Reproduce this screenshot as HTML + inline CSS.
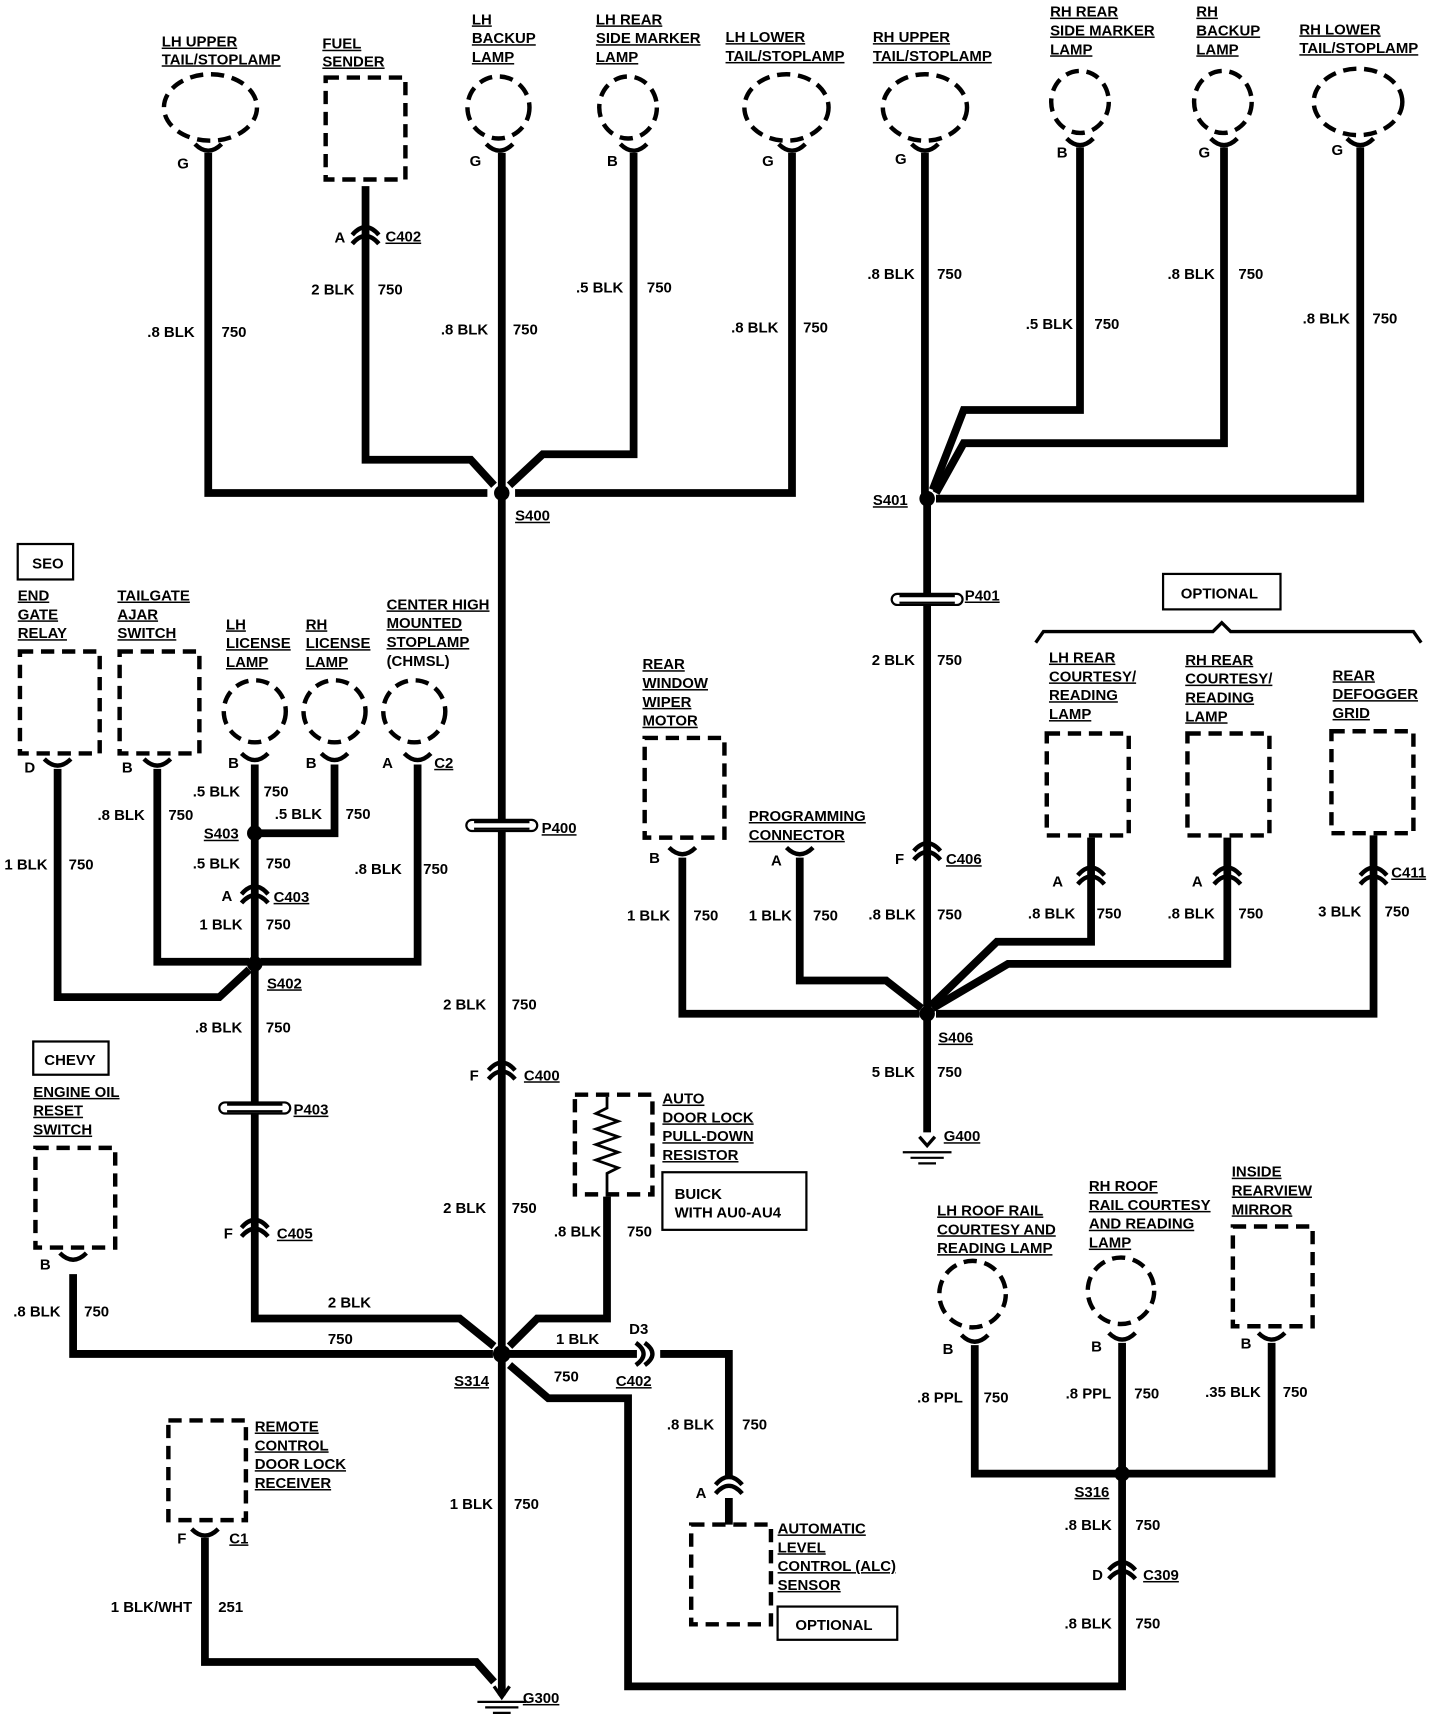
<!DOCTYPE html>
<html><head><meta charset="utf-8"><style>
html,body{margin:0;padding:0;background:#fff;}
svg{display:block;}
text{font-family:"Liberation Sans",sans-serif;font-weight:bold;font-size:13.5px;fill:#000;}
.u{text-decoration:underline;}
.w{fill:none;stroke:#000;stroke-width:7;stroke-linejoin:miter;}
.d{fill:none;stroke:#000;stroke-width:4;stroke-dasharray:12 7;}
.c{fill:none;stroke:#000;stroke-width:4;}
.b{fill:#fff;stroke:#000;stroke-width:2;}
</style></head><body>
<svg width="1440" height="1724" viewBox="0 0 1300 1556" preserveAspectRatio="none" xmlns="http://www.w3.org/2000/svg">
<rect width="1300" height="1556" fill="#fff"/>

<!-- ===== TOP LAMPS ===== -->
<g class="d">
<ellipse cx="190" cy="97" rx="42" ry="30"/>
<rect x="294" y="70" width="72" height="92"/>
<ellipse cx="450" cy="97" rx="28" ry="28"/>
<ellipse cx="567" cy="97" rx="26" ry="28"/>
<ellipse cx="710" cy="97" rx="38" ry="30"/>
<ellipse cx="835" cy="97" rx="38" ry="30"/>
<ellipse cx="975" cy="92" rx="26" ry="28"/>
<ellipse cx="1104" cy="92" rx="26" ry="28"/>
<ellipse cx="1226" cy="92" rx="40" ry="30"/>
</g>
<!-- Y connectors top -->
<g class="c">
<path d="M176 130 Q188 142 200 130"/>
<path d="M439 130 Q451 142 463 130"/>
<path d="M560 130 Q572 142 584 130"/>
<path d="M703 130 Q715 142 727 130"/>
<path d="M823 130 Q835 142 847 130"/>
<path d="M963 125 Q975 137 987 125"/>
<path d="M1093 125 Q1105 137 1117 125"/>
<path d="M1216 125 Q1228 137 1240 125"/>
</g>
<!-- top wires -->
<g class="w">
<path d="M188 138 V445 H440"/>
<path d="M330 168 V415 H425 L446 438"/>
<path d="M453 138 V1530"/>
<path d="M572 138 V410 H490 L460 438"/>
<path d="M715 138 V445 H465"/>
<path d="M835 138 V450"/>
<path d="M975 133 V370 H870 L842 442"/>
<path d="M1105 133 V400 H870 L845 445"/>
<path d="M1228 133 V450 H845"/>
<path d="M837 450 V915"/>
</g>
<!-- C402 top connector -->
<g class="c"><path d="M318 220 Q330 206 342 220"/><path d="M318 212 Q330 198 342 212"/></g>
<circle cx="453" cy="445" r="7"/>
<circle cx="837" cy="450" r="7"/>

<!-- top labels -->
<text class="u" x="146" y="42">LH UPPER</text><text class="u" x="146" y="58">TAIL/STOPLAMP</text>
<text class="u" x="291" y="44">FUEL</text><text class="u" x="291" y="60">SENDER</text>
<text class="u" x="426" y="22">LH</text><text class="u" x="426" y="39">BACKUP</text><text class="u" x="426" y="56">LAMP</text>
<text class="u" x="538" y="22">LH REAR</text><text class="u" x="538" y="39">SIDE MARKER</text><text class="u" x="538" y="56">LAMP</text>
<text class="u" x="655" y="38">LH LOWER</text><text class="u" x="655" y="55">TAIL/STOPLAMP</text>
<text class="u" x="788" y="38">RH UPPER</text><text class="u" x="788" y="55">TAIL/STOPLAMP</text>
<text class="u" x="948" y="15">RH REAR</text><text class="u" x="948" y="32">SIDE MARKER</text><text class="u" x="948" y="49">LAMP</text>
<text class="u" x="1080" y="15">RH</text><text class="u" x="1080" y="32">BACKUP</text><text class="u" x="1080" y="49">LAMP</text>
<text class="u" x="1173" y="31">RH LOWER</text><text class="u" x="1173" y="48">TAIL/STOPLAMP</text>

<text x="160" y="152">G</text><text x="424" y="150">G</text><text x="548" y="150">B</text>
<text x="688" y="150">G</text><text x="808" y="148">G</text><text x="954" y="142">B</text>
<text x="1082" y="142">G</text><text x="1202" y="140">G</text>
<text x="302" y="219">A</text><text class="u" x="348" y="218">C402</text>

<text x="133" y="304">.8 BLK</text><text x="200" y="304">750</text>
<text x="281" y="266">2 BLK</text><text x="341" y="266">750</text>
<text x="398" y="302">.8 BLK</text><text x="463" y="302">750</text>
<text x="520" y="264">.5 BLK</text><text x="584" y="264">750</text>
<text x="660" y="300">.8 BLK</text><text x="725" y="300">750</text>
<text x="783" y="252">.8 BLK</text><text x="846" y="252">750</text>
<text x="926" y="297">.5 BLK</text><text x="988" y="297">750</text>
<text x="1054" y="252">.8 BLK</text><text x="1118" y="252">750</text>
<text x="1176" y="292">.8 BLK</text><text x="1239" y="292">750</text>
<text class="u" x="465" y="470">S400</text>
<text class="u" x="788" y="456">S401</text>

<!-- P401 -->
<g><rect x="805" y="536" width="64" height="10" rx="5" class="b" stroke-width="3"/><line x1="812" y1="538" x2="862" y2="538" stroke="#000" stroke-width="2"/><line x1="812" y1="544" x2="862" y2="544" stroke="#000" stroke-width="2"/></g>
<text class="u" x="871" y="542">P401</text>
<text x="787" y="600">2 BLK</text><text x="846" y="600">750</text>
<!-- C406 -->
<g class="c"><path d="M825 776 Q837 762 849 776"/><path d="M825 768 Q837 754 849 768"/></g>
<text x="808" y="780">F</text><text class="u" x="854" y="780">C406</text>

<!-- OPTIONAL bracket -->
<rect x="1050" y="518" width="106" height="32" fill="#fff" stroke="#000" stroke-width="2"/>
<text x="1066" y="540">OPTIONAL</text>
<path d="M935 580 L942 570 H1095 L1103 562 L1111 570 H1276 L1283 580" fill="none" stroke="#000" stroke-width="3"/>

<!-- right middle devices -->
<g class="d">
<rect x="582" y="666" width="72" height="90"/>
<rect x="945" y="662" width="74" height="92"/>
<rect x="1072" y="662" width="74" height="92"/>
<rect x="1202" y="660" width="74" height="92"/>
</g>
<g class="c">
<path d="M604 765 Q616 777 628 765"/>
<path d="M710 765 Q722 777 734 765"/>
</g>
<g class="w">
<path d="M616 774 V915 H830"/>
<path d="M722 774 V885 H800 L832 910"/>
<path d="M985 756 V850 H900 L840 908"/>
<path d="M1108 756 V870 H910 L842 910"/>
<path d="M1240 754 V915 H845"/>
<path d="M837 915 V1022"/>
</g>
<g class="c">
<path d="M973 798 Q985 784 997 798"/><path d="M973 790 Q985 776 997 790"/>
<path d="M1096 798 Q1108 784 1120 798"/><path d="M1096 790 Q1108 776 1120 790"/>
<path d="M1228 798 Q1240 784 1252 798"/><path d="M1228 790 Q1240 776 1252 790"/>
</g>
<circle cx="837" cy="915" r="7"/>
<!-- G400 -->
<g stroke="#000" stroke-width="2"><line x1="815" y1="1040" x2="859" y2="1040"/><line x1="822" y1="1045" x2="852" y2="1045"/><line x1="829" y1="1050" x2="845" y2="1050"/></g>
<path d="M830 1026 L837 1034 L844 1026" fill="none" stroke="#000" stroke-width="3"/>
<text class="u" x="852" y="1030">G400</text>

<text class="u" x="580" y="604">REAR</text><text class="u" x="580" y="621">WINDOW</text><text class="u" x="580" y="638">WIPER</text><text class="u" x="580" y="655">MOTOR</text>
<text class="u" x="676" y="741">PROGRAMMING</text><text class="u" x="676" y="758">CONNECTOR</text>
<text class="u" x="947" y="598">LH REAR</text><text class="u" x="947" y="615">COURTESY/</text><text class="u" x="947" y="632">READING</text><text class="u" x="947" y="649">LAMP</text>
<text class="u" x="1070" y="600">RH REAR</text><text class="u" x="1070" y="617">COURTESY/</text><text class="u" x="1070" y="634">READING</text><text class="u" x="1070" y="651">LAMP</text>
<text class="u" x="1203" y="614">REAR</text><text class="u" x="1203" y="631">DEFOGGER</text><text class="u" x="1203" y="648">GRID</text>
<text x="586" y="779">B</text><text x="696" y="781">A</text>
<text x="950" y="800">A</text><text x="1076" y="800">A</text><text class="u" x="1256" y="792">C411</text>
<text x="566" y="831">1 BLK</text><text x="626" y="831">750</text>
<text x="676" y="831">1 BLK</text><text x="734" y="831">750</text>
<text x="784" y="830">.8 BLK</text><text x="846" y="830">750</text>
<text x="928" y="829">.8 BLK</text><text x="990" y="829">750</text>
<text x="1054" y="829">.8 BLK</text><text x="1118" y="829">750</text>
<text x="1190" y="827">3 BLK</text><text x="1250" y="827">750</text>
<text class="u" x="847" y="941">S406</text>
<text x="787" y="972">5 BLK</text><text x="846" y="972">750</text>

<!-- ===== LEFT CLUSTER ===== -->
<rect x="16" y="491" width="50" height="32" fill="#fff" stroke="#000" stroke-width="2"/><text x="29" y="513">SEO</text>
<text class="u" x="16" y="542">END</text><text class="u" x="16" y="559">GATE</text><text class="u" x="16" y="576">RELAY</text>
<text class="u" x="106" y="542">TAILGATE</text><text class="u" x="106" y="559">AJAR</text><text class="u" x="106" y="576">SWITCH</text>
<text class="u" x="204" y="568">LH</text><text class="u" x="204" y="585">LICENSE</text><text class="u" x="204" y="602">LAMP</text>
<text class="u" x="276" y="568">RH</text><text class="u" x="276" y="585">LICENSE</text><text class="u" x="276" y="602">LAMP</text>
<text class="u" x="349" y="550">CENTER HIGH</text><text class="u" x="349" y="567">MOUNTED</text><text class="u" x="349" y="584">STOPLAMP</text><text x="349" y="601">(CHMSL)</text>
<g class="d">
<rect x="18" y="588" width="72" height="92"/>
<rect x="108" y="588" width="72" height="92"/>
<ellipse cx="230" cy="642" rx="28" ry="28"/>
<ellipse cx="302" cy="642" rx="28" ry="28"/>
<ellipse cx="374" cy="642" rx="28" ry="28"/>
</g>
<g class="c">
<path d="M40 685 Q52 697 64 685"/>
<path d="M130 685 Q142 697 154 685"/>
<path d="M218 680 Q230 692 242 680"/>
<path d="M290 680 Q302 692 314 680"/>
<path d="M365 680 Q377 692 389 680"/>
</g>
<g class="w">
<path d="M52 694 V900 H198 L225 875"/>
<path d="M142 694 V868 H225"/>
<path d="M230 690 V1190 H415 L446 1215"/>
<path d="M302 690 V752 H233"/>
<path d="M377 690 V868 H235"/>
<path d="M66 1150 V1222 H445"/>
<path d="M548 1080 V1190 H485 L460 1215"/>
<path d="M460 1222 H575"/>
<path d="M596 1222 H658 V1335"/>
<path d="M460 1232 L495 1262 H567 V1522 H1013 V1334"/>
<path d="M185 1388 V1500 H430 L446 1518"/>
</g>
<circle cx="230" cy="752" r="7"/><circle cx="230" cy="870" r="7"/><circle cx="453" cy="1222" r="8"/>
<g class="c"><path d="M218 815 Q230 801 242 815"/><path d="M218 807 Q230 793 242 807"/></g>
<text x="206" y="693">B</text><text x="276" y="693">B</text><text x="345" y="693">A</text><text class="u" x="392" y="693">C2</text>
<text x="22" y="697">D</text><text x="110" y="697">B</text>
<text x="174" y="719">.5 BLK</text><text x="238" y="719">750</text>
<text x="248" y="739">.5 BLK</text><text x="312" y="739">750</text>
<text x="88" y="740">.8 BLK</text><text x="152" y="740">750</text>
<text class="u" x="184" y="757">S403</text>
<text x="174" y="784">.5 BLK</text><text x="240" y="784">750</text>
<text x="320" y="789">.8 BLK</text><text x="382" y="789">750</text>
<text x="4" y="785">1 BLK</text><text x="62" y="785">750</text>
<text x="200" y="813">A</text><text class="u" x="247" y="814">C403</text>
<text x="180" y="839">1 BLK</text><text x="240" y="839">750</text>
<text class="u" x="241" y="892">S402</text>
<text x="176" y="932">.8 BLK</text><text x="240" y="932">750</text>

<!-- P403 -->
<g><rect x="198" y="995" width="64" height="10" rx="5" class="b" stroke-width="3"/><line x1="205" y1="997" x2="255" y2="997" stroke="#000" stroke-width="2"/><line x1="205" y1="1003" x2="255" y2="1003" stroke="#000" stroke-width="2"/></g>
<text class="u" x="265" y="1006">P403</text>
<g class="c"><path d="M218 1116 Q230 1102 242 1116"/><path d="M218 1108 Q230 1094 242 1108"/></g>
<text x="202" y="1118">F</text><text class="u" x="250" y="1118">C405</text>
<text x="296" y="1180">2 BLK</text>
<text x="296" y="1213">750</text>

<!-- P400 / C400 -->
<g><rect x="421" y="740" width="64" height="10" rx="5" class="b" stroke-width="3"/><line x1="428" y1="742" x2="478" y2="742" stroke="#000" stroke-width="2"/><line x1="428" y1="748" x2="478" y2="748" stroke="#000" stroke-width="2"/></g>
<text class="u" x="489" y="752">P400</text>
<text x="400" y="911">2 BLK</text><text x="462" y="911">750</text>
<g class="c"><path d="M441 974 Q453 960 465 974"/><path d="M441 966 Q453 952 465 966"/></g>
<text x="424" y="975">F</text><text class="u" x="473" y="975">C400</text>
<text x="400" y="1095">2 BLK</text><text x="462" y="1095">750</text>

<!-- CHEVY -->
<rect x="30" y="940" width="68" height="30" fill="#fff" stroke="#000" stroke-width="2"/><text x="40" y="961">CHEVY</text>
<text class="u" x="30" y="990">ENGINE OIL</text><text class="u" x="30" y="1007">RESET</text><text class="u" x="30" y="1024">SWITCH</text>
<rect x="32" y="1036" width="72" height="90" class="d"/>
<path d="M54 1131 Q66 1143 78 1131" class="c"/>
<text x="36" y="1146">B</text>
<text x="12" y="1188">.8 BLK</text><text x="76" y="1188">750</text>

<!-- auto door lock resistor -->
<rect x="519" y="988" width="70" height="90" class="d"/>
<path d="M548 990 V1000 L538 1005 L558 1012 L538 1019 L558 1026 L538 1033 L558 1040 L538 1047 L558 1054 L548 1059 V1080" fill="none" stroke="#000" stroke-width="2.5"/>
<text class="u" x="598" y="996">AUTO</text><text class="u" x="598" y="1013">DOOR LOCK</text><text class="u" x="598" y="1030">PULL-DOWN</text><text class="u" x="598" y="1047">RESISTOR</text>
<rect x="598" y="1058" width="130" height="52" fill="#fff" stroke="#000" stroke-width="2"/>
<text x="609" y="1082">BUICK</text><text x="609" y="1099">WITH AU0-AU4</text>
<text x="500" y="1116">.8 BLK</text><text x="566" y="1116">750</text>

<text x="502" y="1213">1 BLK</text>
<text x="500" y="1247">750</text>
<text x="568" y="1204">D3</text>
<path d="M574 1212 Q588 1222 574 1232 M582 1212 Q596 1222 582 1232" class="c"/>
<text class="u" x="556" y="1251">C402</text>
<text class="u" x="410" y="1251">S314</text>
<text x="602" y="1290">.8 BLK</text><text x="670" y="1290">750</text>
<g class="c"><path d="M646 1348 Q658 1334 670 1348"/><path d="M646 1340 Q658 1326 670 1340"/></g>
<text x="628" y="1352">A</text>
<path d="M658 1352 V1376" stroke="#000" stroke-width="7"/>
<rect x="624" y="1376" width="72" height="90" class="d"/>
<text class="u" x="702" y="1384">AUTOMATIC</text><text class="u" x="702" y="1401">LEVEL</text><text class="u" x="702" y="1418">CONTROL (ALC)</text><text class="u" x="702" y="1435">SENSOR</text>
<rect x="702" y="1450" width="108" height="30" fill="#fff" stroke="#000" stroke-width="2"/><text x="718" y="1471">OPTIONAL</text>

<text x="406" y="1362">1 BLK</text><text x="464" y="1362">750</text>

<!-- remote -->
<rect x="152" y="1282" width="70" height="90" class="d"/>
<path d="M173 1380 Q185 1392 197 1380" class="c"/>
<text class="u" x="230" y="1292">REMOTE</text><text class="u" x="230" y="1309">CONTROL</text><text class="u" x="230" y="1326">DOOR LOCK</text><text class="u" x="230" y="1343">RECEIVER</text>
<text x="160" y="1393">F</text><text class="u" x="207" y="1393">C1</text>
<text x="100" y="1455">1 BLK/WHT</text><text x="197" y="1455">251</text>

<!-- G300 -->
<path d="M446 1522 L453 1532 L460 1522" fill="none" stroke="#000" stroke-width="3"/>
<g stroke="#000" stroke-width="2"><line x1="431" y1="1536" x2="475" y2="1536"/><line x1="438" y1="1541" x2="468" y2="1541"/><line x1="445" y1="1546" x2="461" y2="1546"/></g>
<text class="u" x="472" y="1537">G300</text>

<!-- ===== BOTTOM RIGHT ===== -->
<text class="u" x="846" y="1097">LH ROOF RAIL</text><text class="u" x="846" y="1114">COURTESY AND</text><text class="u" x="846" y="1131">READING LAMP</text>
<text class="u" x="983" y="1075">RH ROOF</text><text class="u" x="983" y="1092">RAIL COURTESY</text><text class="u" x="983" y="1109">AND READING</text><text class="u" x="983" y="1126">LAMP</text>
<text class="u" x="1112" y="1062">INSIDE</text><text class="u" x="1112" y="1079">REARVIEW</text><text class="u" x="1112" y="1096">MIRROR</text>
<g class="d">
<ellipse cx="878" cy="1168" rx="30" ry="30"/>
<ellipse cx="1012" cy="1165" rx="30" ry="30"/>
<rect x="1113" y="1107" width="72" height="90"/>
</g>
<g class="c">
<path d="M868 1205 Q880 1217 892 1205"/>
<path d="M1001 1203 Q1013 1215 1025 1203"/>
<path d="M1136 1203 Q1148 1215 1160 1203"/>
</g>
<g class="w">
<path d="M880 1214 V1330 H1148 V1212"/>
<path d="M1013 1212 V1330"/>
</g>
<circle cx="1013" cy="1330" r="7"/>
<text x="851" y="1222">B</text><text x="985" y="1220">B</text><text x="1120" y="1217">B</text>
<text x="828" y="1266">.8 PPL</text><text x="888" y="1266">750</text>
<text x="962" y="1262">.8 PPL</text><text x="1024" y="1262">750</text>
<text x="1088" y="1261">.35 BLK</text><text x="1158" y="1261">750</text>
<text class="u" x="970" y="1351">S316</text>
<text x="961" y="1381">.8 BLK</text><text x="1025" y="1381">750</text>
<g class="c"><path d="M1001 1425 Q1013 1411 1025 1425"/><path d="M1001 1417 Q1013 1403 1025 1417"/></g>
<text x="986" y="1426">D</text><text class="u" x="1032" y="1426">C309</text>
<text x="961" y="1470">.8 BLK</text><text x="1025" y="1470">750</text>
</svg>
</body></html>
